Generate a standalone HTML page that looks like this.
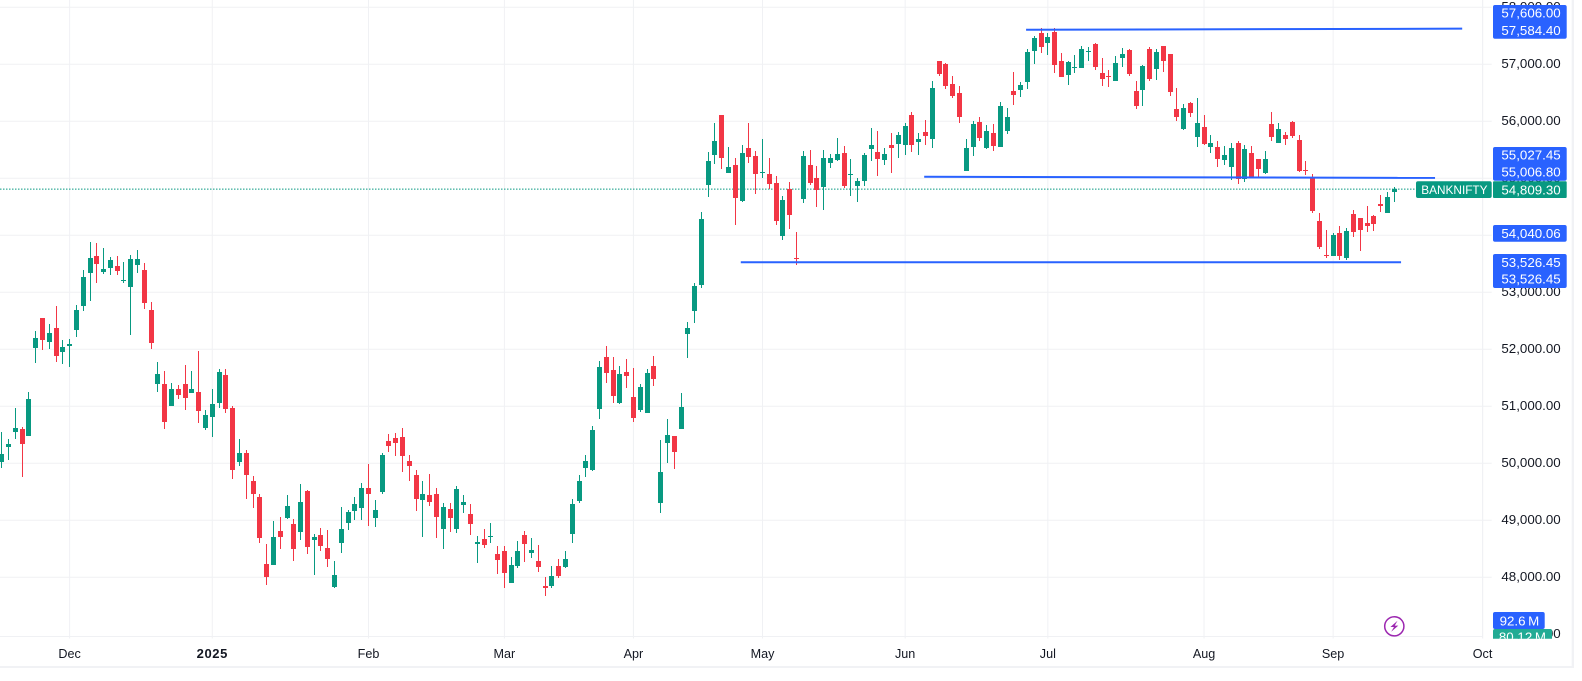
<!DOCTYPE html>
<html lang="en">
<head>
<meta charset="utf-8">
<title>BANKNIFTY candlestick chart</title>
<style>
html,body{margin:0;padding:0;background:#fff;width:1582px;height:681px;overflow:hidden}
svg{position:absolute;left:0;top:0;display:block;font-family:"Liberation Sans",sans-serif}
</style>
</head>
<body>
<svg id="chart" width="1582" height="681" viewBox="0 0 1582 681" xmlns="http://www.w3.org/2000/svg">
  <defs>
    <clipPath id="pane-clip"><rect x="0" y="0" width="1483" height="636"/></clipPath>
    <clipPath id="axis-clip"><rect x="1483" y="0" width="88" height="638.7"/></clipPath>
  </defs>
  <rect x="0" y="0" width="1582" height="681" fill="#ffffff"/>
  <g id="grid"></g>
  <g id="price-axis" clip-path="url(#axis-clip)"></g>
  <g id="time-axis"></g>
  <g id="candles" clip-path="url(#pane-clip)"></g>
  <g id="overlays"></g>

  <g font-size="13.33" fill="#ffffff" text-anchor="end">
    <rect x="1493" y="5" width="73.7" height="33.7" rx="2" fill="#2962ff"/>
    <text x="1560.7" y="17.5">57,606.00</text>
    <text x="1560.7" y="34.8">57,584.40</text>
    <rect x="1493" y="147" width="73.7" height="33.7" rx="2" fill="#2962ff"/>
    <text x="1560.7" y="159.5">55,027.45</text>
    <text x="1560.7" y="176.5">55,006.80</text>
    <rect x="1493" y="181.3" width="73.7" height="16.7" rx="1" fill="#089981"/>
    <text x="1560.7" y="194.3">54,809.30</text>
    <rect x="1416" y="181.3" width="75.7" height="16.7" rx="2" fill="#089981"/>
    <text x="1487.5" y="194.2" font-size="11.8">BANKNIFTY</text>
    <rect x="1493" y="225" width="73.7" height="16.7" rx="2" fill="#2962ff"/>
    <text x="1560.7" y="237.8">54,040.06</text>
    <rect x="1493" y="254" width="73.7" height="34" rx="2" fill="#2962ff"/>
    <text x="1560.7" y="266.8">53,526.45</text>
    <text x="1560.7" y="283.5">53,526.45</text>
    <g clip-path="url(#axis-clip)">
      <rect x="1493" y="629" width="59" height="14" rx="2" fill="#22ab94"/>
      <text x="1546" y="641.6">80.12&#8201;M</text>
    </g>
    <rect x="1493" y="612" width="51.7" height="17" rx="2" fill="#2962ff"/>
    <text x="1539.3" y="625.4">92.6&#8201;M</text>
  </g>

  <g>
    <circle cx="1394.3" cy="626.3" r="9.6" fill="#ffffff" stroke="#9c27b0" stroke-width="1.5"/>
    <path d="M1397.5 620.8 L1390.4 627 L1394 627 L1391.2 631.8 L1398.3 625.6 L1394.7 625.6 Z" fill="#9c27b0"/>
  </g>

  <rect x="1571.7" y="0" width="2.3" height="668" fill="#f1f2f5"/>
  <rect x="0" y="666" width="1574" height="2" fill="#f1f2f5"/>
</svg>

<script>
var categoryIndex = [];
var openValues = [
50025,50285,50550,50600,50480,52020,52550,52130,52375,51950,
52055,52340,52760,53340,53635,53355,53425,53460,53195,53095,
53480,53390,52690,51390,51390,51005,51305,51390,51235,51250,
50620,50810,51055,51550,50970,50025,50180,49690,49410,48235,
48215,48810,49040,48935,48795,49515,48655,48740,48515,47830,
48600,48950,49165,49215,49565,49040,49495,50390,50445,50460,
50040,49795,49355,49445,49460,48845,49200,48845,49270,49110,
48585,48670,48705,48410,48460,47900,48200,48740,48425,48285,
47845,47845,48200,48180,48760,49340,49915,49880,50950,51865,
51635,51060,51600,51165,50935,50880,51705,49305,50355,50480,
50600,52270,52670,53130,54885,55410,56110,55095,55235,54600,
55530,55390,55095,55075,54920,53990,54815,53600,54635,55235,
55005,54850,55270,55320,55445,55060,54865,54955,55515,55460,
55320,55585,55600,55585,56110,55635,55815,55690,57060,57005,
56655,56495,55130,55550,55990,55530,55795,55550,55830,56530,
56550,56690,57235,57550,57375,57565,57060,56810,56935,56935,
57215,57355,56845,56795,56705,57110,57250,56530,56550,57270,
56915,57320,57180,56215,55865,56320,55725,55900,55550,55550,
55320,55200,55620,54990,55445,55340,55095,55955,55620,55760,
55990,55670,55145,55005,54250,53655,53635,54040,53600,54375,
54305,54215,54340,54550,54390,54760];
var highValues = [
50550,50425,50970,50635,51250,52320,52550,52445,52760,52165,
52180,52775,53390,53880,53865,53775,53620,53635,53530,53655,
53740,53515,52830,51775,51620,51410,51375,51725,51620,51970,
50935,51305,51655,51655,51005,50425,50235,49775,49460,48585,
48985,49055,49445,49020,49635,49530,48760,48865,48830,48285,
49235,49180,49410,49655,49985,49355,50180,50515,50530,50620,
50145,49880,49690,49810,49565,49305,49305,49600,49445,49285,
48725,48845,48950,48550,48550,48355,48635,48810,48690,48565,
48005,48200,48320,48460,49375,49795,50145,50655,51795,52060,
51865,51705,51830,51670,51390,51655,51880,50410,50775,50480,
51235,52480,53165,54410,55460,55970,56110,55550,55355,55585,
55970,55480,55690,55355,55040,54690,54935,54060,55480,55495,
55215,55495,55425,55705,55565,55340,55005,55445,55885,55830,
55530,55795,55815,55970,56165,55795,56025,56705,57060,57025,
56795,56620,55690,56005,56075,55935,55950,56340,56235,56865,
56690,57270,57495,57635,57550,57635,57200,57060,57165,57320,
57305,57375,57110,56900,57145,57285,57270,56705,56990,57305,
57270,57320,57180,56585,56305,56340,56410,56110,55760,55655,
55565,55620,55655,55585,55565,55340,55480,56165,55970,55810,
56005,55760,55305,55075,54390,54095,54040,54165,54130,54445,
54305,54515,54355,54705,54760,54845];
var lowValues = [
49915,50055,50425,49760,50480,51760,51985,52005,51775,51740,
51690,52215,52670,52845,53165,53320,53305,53305,53165,52250,
53340,52705,52005,51250,50600,51005,51130,50935,51235,50705,
50585,50460,50970,50880,49725,49950,49375,49215,48600,47865,
48215,48495,49020,48285,48655,48410,48040,48460,48180,47810,
48425,48830,49005,49005,48900,48880,49460,50200,50130,49845,
49690,49165,48705,49250,48690,48495,48795,48775,49130,48740,
48250,48515,48600,48055,47810,47900,48165,48270,48340,48090,
47670,47810,47985,48165,48600,49305,49760,49865,50775,51410,
51060,51040,51320,50725,50900,50880,51355,49130,50005,49900,
50600,51845,52460,53075,54670,55250,55165,55095,54180,54585,
55270,54725,55005,54815,54180,53920,54110,53480,54565,54885,
54495,54445,55180,55305,54830,54690,54585,54865,55305,55040,
55235,55095,55355,55410,55460,55410,55585,55530,56795,56565,
56410,55970,55130,55390,55655,55515,55480,55550,55775,56285,
56425,56565,57005,57200,57165,56845,56775,56635,56845,56935,
57060,56900,56620,56600,56705,56950,56795,56215,56270,56705,
56725,56865,56445,56005,55845,56075,55550,55585,55445,55200,
55235,54970,54900,54935,55005,55005,55075,55655,55620,55585,
55705,55110,55060,54390,53760,53600,53635,53565,53565,53970,
53725,54060,54075,54410,54390,54585];
var closeValues = [
50165,50340,50620,50340,51130,52200,52165,52285,51880,52040,
52090,52690,53270,53600,53495,53410,53565,53375,53215,53585,
53585,52810,52110,51565,50725,51305,51200,51145,51305,50915,
50845,51040,51600,50950,49880,50180,49795,49460,48690,48005,
48705,48705,49250,48495,49320,48530,48705,48550,48320,48040,
48845,49145,49285,49565,49460,49180,50145,50305,50355,50130,
49950,49375,49460,49320,49055,49235,49040,49550,49320,48935,
48620,48565,48725,48305,48075,48215,48460,48585,48480,48180,
47810,48020,48020,48320,49285,49690,50040,50585,51690,51585,
51180,51565,51530,50795,51340,51585,51480,49845,50495,50200,
50990,52375,53110,54285,55305,55655,55355,55200,54655,55445,
55375,55075,55110,54900,54250,54620,54355,53585,55390,54920,
54795,55355,55355,55425,54865,55075,54955,55410,55585,55340,
55425,55530,55760,55920,55585,55690,55740,56585,56830,56620,
56445,56075,55530,55950,55705,55830,55565,56270,56075,56460,
56635,57215,57460,57305,57480,56990,56775,57040,56950,57270,
57235,56950,56740,56775,57025,57180,56830,56270,56970,56740,
57215,57060,56515,56075,56235,56145,55970,55600,55620,55340,
55410,55530,54990,55515,55025,55165,55340,55725,55865,55690,
55740,55130,55130,54425,53795,53635,54005,53635,54075,54060,
54095,54165,54200,54515,54670,54810];

var priceTicks = [58000,57000,56000,55000,54000,53000,52000,51000,50000,49000,48000,47000];
var priceTickLabels = ["58,000.00","57,000.00","56,000.00","55,000.00","54,000.00","53,000.00","52,000.00","51,000.00","50,000.00","49,000.00","48,000.00","47,000.00"];
var timeTickBars = [10,31,54,74,93,112,133,154,177,196,218];
var timeTickLabels = ["Dec","2025","Feb","Mar","Apr","May","Jun","Jul","Aug","Sep","Oct"];
var timeTickBold = [false,true,false,false,false,false,false,false,false,false,false];

var trendStartBars = [150.8,135.8,108.8];
var trendEndBars = [215,211,206];
var trendStartPrices = [57606,55027.45,53526.45];
var trendEndPrices = [57625,55006.8,53526.45];
var trendNames = ["resistance-trend-line","middle-trend-line","support-trend-line"];
var lastPrice = 54809.3;

var SVGNS = "http://www.w3.org/2000/svg";
var X_ORIGIN = 1.7, X_STEP = 6.793;
var Y_REF_PRICE = 57000, Y_REF_PX = 64.3, Y_SCALE = 0.057;
var PANE_RIGHT = 1482.7, AXIS_BOTTOM = 636.5;
var UP_COLOR = "#089981", DOWN_COLOR = "#f23645", GRID_COLOR = "#f0f1f4";

function xScale(bar) { return X_ORIGIN + X_STEP * bar; }
function yScale(price) { return Y_REF_PX + (Y_REF_PRICE - price) * Y_SCALE; }
function make(tag, attrs) {
  var el = document.createElementNS(SVGNS, tag);
  for (var k in attrs) { el.setAttribute(k, attrs[k]); }
  return el;
}

var gridGroup = document.getElementById("grid");
var priceGroup = document.getElementById("price-axis");
var timeGroup = document.getElementById("time-axis");
var candleGroup = document.getElementById("candles");
var overlayGroup = document.getElementById("overlays");

priceTicks.forEach(function (tick, i) {
  var y = yScale(tick);
  if (y < 630) {
    var line = make("line", {x1: 0, x2: 1491.7, y1: y, y2: y, stroke: GRID_COLOR, "stroke-width": 1});
    
    
    gridGroup.appendChild(line);
  }
  var label = make("text", {x: 1560.7, y: y + 3.8, "text-anchor": "end", "font-size": 13.33, fill: "#131722"});
  
  
  label.textContent = priceTickLabels[i];
  priceGroup.appendChild(label);
});

timeTickBars.forEach(function (bar, i) {
  var x = xScale(bar);
  var line = make("line", {x1: x, x2: x, y1: 0, y2: 638.5, stroke: GRID_COLOR, "stroke-width": 1});
  
  
  gridGroup.appendChild(line);
  var label = make("text", {x: x, y: 658, "text-anchor": "middle", "font-size": timeTickBold[i] ? 13 : 12.6, fill: "#131722"});
  if (timeTickBold[i]) {
    label.setAttribute("font-weight", "700");
    label.setAttribute("letter-spacing", "0.6");
  }
  
  
  label.textContent = timeTickLabels[i];
  timeGroup.appendChild(label);
});

var axisBorder = make("line", {x1: PANE_RIGHT, x2: PANE_RIGHT, y1: 0, y2: 638.5, stroke: GRID_COLOR, "stroke-width": 1});


gridGroup.appendChild(axisBorder);

var timeBorder = make("line", {x1: 0, x2: PANE_RIGHT, y1: AXIS_BOTTOM, y2: AXIS_BOTTOM, stroke: GRID_COLOR, "stroke-width": 1});


gridGroup.appendChild(timeBorder);

var lastY = yScale(lastPrice);
var lastLine = make("line", {x1: 0, x2: PANE_RIGHT, y1: lastY, y2: lastY, stroke: UP_COLOR, "stroke-width": 1, "stroke-dasharray": "1.5 1.5"});


candleGroup.appendChild(lastLine);

openValues.forEach(function (open, i) {
  categoryIndex.push(i);
  var close = closeValues[i];
  var color = close >= open ? UP_COLOR : DOWN_COLOR;
  var px = Math.floor(xScale(i));
  var bodyTop = Math.round(yScale(Math.max(open, close)));
  var bodyBottom = Math.round(yScale(Math.min(open, close)));
  var wickTop = Math.round(yScale(highValues[i]));
  var wickBottom = Math.round(yScale(lowValues[i]));
  var group = make("g", {});
  
  
  var wick = make("rect", {x: px, y: wickTop, width: 1, height: Math.max(1, wickBottom - wickTop), fill: color});
  
  
  var body = make("rect", {x: px - 2, y: bodyTop, width: 5, height: Math.max(1, bodyBottom - bodyTop), fill: color});
  
  
  group.appendChild(wick);
  group.appendChild(body);
  candleGroup.appendChild(group);
});

trendNames.forEach(function (name, i) {
  var line = make("line", {
    x1: xScale(trendStartBars[i]), x2: xScale(trendEndBars[i]),
    y1: yScale(trendStartPrices[i]), y2: yScale(trendEndPrices[i]),
    stroke: "#2962ff", "stroke-width": 2
  });
  
  
  overlayGroup.appendChild(line);
});
</script>
</body>
</html>
